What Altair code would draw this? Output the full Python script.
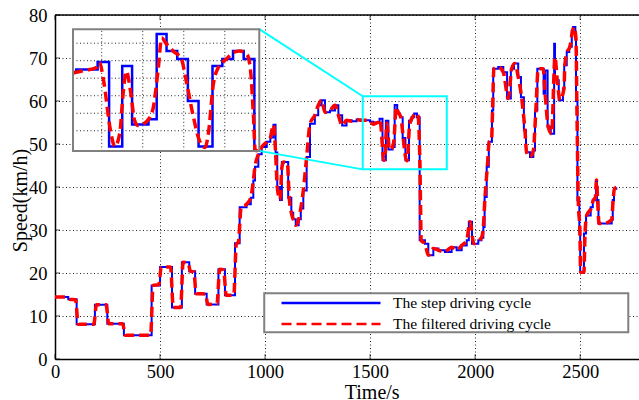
import altair as alt
import pandas as pd

# ---------------- data ----------------
SERIES = ["The step driving cycle", "The filtered driving cycle"]

STEP_T = [0, 63, 103, 190, 249, 328, 460, 500, 557, 604, 639, 667, 722, 778, 809, 857, 879, 912,
          932, 944, 952, 968, 984, 1008, 1025, 1040, 1050, 1058, 1071, 1080, 1110, 1125, 1134, 1146,
          1160, 1170, 1182, 1198, 1214, 1237, 1253, 1269, 1285, 1309, 1333, 1349, 1367, 1388, 1412,
          1436, 1456, 1480, 1500, 1515, 1519, 1545, 1559, 1575, 1587, 1607, 1617, 1629, 1642, 1655,
          1668, 1685, 1697, 1710, 1723, 1736, 1761, 1777, 1801, 1825, 1856, 1888, 1912, 1936, 1960,
          1970, 1985, 2015, 2030, 2039, 2045, 2055, 2065, 2080, 2086, 2110, 2134, 2152, 2170, 2185,
          2205, 2218, 2232, 2242, 2261, 2277, 2285, 2296, 2326, 2334, 2345, 2360, 2376, 2380, 2398,
          2418, 2424, 2436, 2448, 2460, 2466, 2477, 2480, 2487, 2496, 2500, 2518, 2528, 2550, 2560,
          2570, 2575, 2580, 2587, 2610, 2650, 2655, 2661, 2672]
STEP_V = [14.4, 13.9, 8.1, 12.6, 8.2, 5.5, 17.1, 21.4, 12.0, 22.5, 20.4, 15.2, 12.7, 20.9, 14.8, 26.9, 35.3, 36.0,
          37.5, 41.5, 44.7, 47.6, 49.3, 50.5, 51.5, 54.5, 48.0, 40.0, 37.0, 45.8, 37.5, 34.0, 32.5, 31.1,
          32.5, 35.0, 39.2, 47.0, 54.7, 56.7, 59.0, 60.2, 57.4, 57.8, 59.0, 56.7, 54.3, 55.5, 55.3,
          55.7, 55.5, 55.5, 55.2, 54.7, 55.0, 55.85, 46.2, 55.4, 48.7, 49.3, 59.05, 57.1, 56.2, 51.4,
          46.2, 55.4, 56.2, 57.1, 56.2, 27.6, 26.8, 24.1, 25.7, 25.3, 24.9, 26.0, 25.3, 26.4, 27.6,
          31.9, 26.8, 27.6, 28.2, 30.7, 37.7, 44.7, 50.5, 57.8, 67.5, 67.9, 66.7, 60.6, 67.5, 68.7,
          65.6, 60.9, 53.2, 48.1, 47.0, 48.5, 57.8, 67.5, 61.7, 67.1, 54.0, 52.4, 73.3, 64.8, 60.2,
          62.9, 68.3, 71.4, 72.6, 76.4, 77.2, 74.5, 60.0, 36.9, 29.2, 20.2, 29.2, 33.4, 35.3, 36.9,
          37.5, 41.6, 37.0, 31.5, 31.5, 32.4, 37.0, 39.6, 39.9]

FILT_T = [0, 58, 68, 98, 110, 185, 197, 243, 256, 322, 335, 455, 467, 494, 506, 550, 563, 598, 610,
          633, 645, 661, 672, 716, 728, 771, 784, 803, 815, 851, 863, 873, 886, 912, 932, 944, 952,
          968, 984, 1008, 1025, 1040, 1050, 1058, 1071, 1080, 1087, 1106, 1115, 1125, 1134, 1146,
          1160, 1170, 1182, 1198, 1214, 1237, 1253, 1269, 1285, 1309, 1333, 1349, 1367, 1388, 1412,
          1436, 1456, 1480, 1500, 1515, 1530, 1543, 1547, 1553, 1560, 1566, 1572, 1576, 1580, 1585,
          1590, 1594, 1604, 1612, 1619, 1623, 1629, 1637, 1647, 1653, 1661, 1669, 1676, 1680, 1686,
          1692, 1702, 1710, 1718, 1727, 1731, 1735, 1737, 1740, 1743, 1761, 1777, 1801, 1825, 1856,
          1888, 1912, 1936, 1960, 1975, 1994, 2015, 2030, 2039, 2047, 2058, 2067, 2078, 2083, 2089,
          2110, 2134, 2158, 2174, 2189, 2205, 2221, 2237, 2245, 2261, 2277, 2289, 2300, 2324, 2332,
          2348, 2364, 2380, 2391, 2404, 2423, 2427, 2438, 2451, 2464, 2470, 2480, 2484, 2491, 2499,
          2502, 2518, 2523, 2531, 2554, 2562, 2572, 2578, 2583, 2590, 2610, 2650, 2657, 2663, 2672]
FILT_V = [14.4, 14.4, 13.9, 13.8, 8.1, 8.1, 12.6, 12.6, 8.2, 8.2, 5.5, 5.5, 17.1, 17.3, 21.4, 21.4, 12.0, 12.0, 22.5,
          22.3, 20.4, 20.2, 15.2, 15.1, 12.7, 12.8, 20.9, 20.7, 14.8, 14.8, 26.7, 27.2, 35.3, 36.0, 37.5, 41.5, 44.7,
          47.6, 49.3, 50.5, 51.5, 54.5, 48.0, 40.0, 37.0, 44.5, 45.8, 45.6, 37.5, 34.0, 32.5, 31.1,
          32.5, 35.0, 39.2, 47.0, 54.7, 56.7, 59.0, 60.2, 57.4, 57.8, 59.0, 56.7, 54.3, 55.5, 55.3,
          55.7, 55.5, 55.5, 55.4, 54.6, 54.9, 55.2, 55.8, 53.3, 48.4, 46.2, 47.7, 52.2, 54.8, 52.6,
          49.2, 48.6, 49.0, 50.3, 55.2, 58.6, 57.9, 57.1, 56.2, 53.7, 49.9, 46.9, 46.1, 47.7, 53.3,
          55.2, 56.2, 56.9, 57.1, 56.7, 55.2, 49.5, 45.8, 36.0, 27.6, 26.8, 24.1, 25.7, 25.3, 24.9,
          26.0, 25.3, 26.4, 27.6, 31.9, 26.8, 27.6, 28.2, 30.7, 37.7, 44.7, 50.5, 50.9, 57.8, 67.5,
          67.9, 66.7, 60.6, 67.5, 68.7, 65.6, 60.9, 53.2, 48.1, 47.0, 48.5, 57.8, 67.5, 67.5, 62.5,
          54.0, 52.4, 70.2, 64.8, 60.2, 62.9, 68.3, 71.4, 72.6, 76.4, 77.2, 74.5, 60.0, 36.9, 29.2,
          20.2, 20.2, 29.2, 33.4, 35.3, 36.9, 37.5, 41.6, 37.0, 31.5, 31.5, 32.4, 37.0, 39.6, 39.9]

X_TICKS = [0, 500, 1000, 1500, 2000, 2500]
Y_TICKS = [0, 10, 20, 30, 40, 50, 60, 70, 80]
INSET_XGRID = [1550, 1600, 1650, 1700]
INSET_YGRID = [48, 50, 52, 54, 56, 58]

# zoom window shown in the inset and the highlighted box on the main chart
INSET_DOM_T = [1515, 1742]
INSET_DOM_V = [45.7, 59.6]
ZOOM_BOX = {"t0": 1465, "t1": 1865, "v0": 44.1, "v1": 61.1}

# ---------------- layout ----------------
W, H = 584, 344
XMAX, YMAX = 2780, 80
FONT = "Liberation Serif"

# inset frame and legend frame placed in main-chart data units
INSET_T = [85.7, 972.4]
INSET_V = [48.4, 76.7]
LEG_T = [996, 2729]
LEG_V = [6.2, 15.3]

def px_x(t):
    return t * W / XMAX

def px_y(v):
    return H - v * H / YMAX

step_df = pd.DataFrame({"t": STEP_T, "v": STEP_V, "series": SERIES[0]})
filt_df = pd.DataFrame({"t": FILT_T, "v": FILT_V, "series": SERIES[1]})

xs = alt.Scale(domain=[0, XMAX], nice=False, zero=False)
ys = alt.Scale(domain=[0, YMAX], nice=False, zero=False)

grid_kw = dict(grid=True, gridDash=[1, 2.5], gridColor="#000000", gridWidth=1, gridOpacity=0.85,
               ticks=False, tickSize=0, domainColor="#000000", domainWidth=1.5,
               labelFont=FONT, labelFontSize=18.5, labelColor="#000000",
               titleFont=FONT, titleFontSize=20, titleFontWeight="normal", titleColor="#000000")

xaxis = alt.Axis(values=X_TICKS, format="d", labelPadding=3, labelFlush=False,
                 title="Time/s", titleX=316.7, titleY=39, titleBaseline="alphabetic",
                 titleAlign="center", **grid_kw)
yaxis = alt.Axis(values=Y_TICKS, format="d", labelPadding=8, labelFlush=False,
                 title="Speed(km/h)", titleX=-29, titleY=185, titleAngle=270,
                 titleBaseline="alphabetic", titleAlign="center", **grid_kw)

legend = alt.Legend(title=None, orient="none", legendX=225, legendY=280, padding=0,
                    symbolType="stroke", symbolSize=9801, symbolStrokeWidth=2.5,
                    clipHeight=16,
                    labelFont=FONT, labelFontSize=15.5, labelColor="#000000", labelOffset=11,
                    rowPadding=4, labelLimit=400)

color = alt.Color("series:N", scale=alt.Scale(domain=SERIES, range=["#0000FF", "#FF0000"]), legend=legend)
dash = alt.StrokeDash("series:N", scale=alt.Scale(domain=SERIES, range=[[1, 0], [10, 5]]), legend=legend)

step_line = alt.Chart(step_df).mark_line(interpolate="step-after", strokeWidth=2).encode(
    x=alt.X("t:Q", scale=xs, axis=xaxis),
    y=alt.Y("v:Q", scale=ys, axis=yaxis),
    color=color, strokeDash=dash)

filt_line = alt.Chart(filt_df).mark_line(interpolate="monotone", strokeWidth=3.5).encode(
    x=alt.X("t:Q", scale=xs), y=alt.Y("v:Q", scale=ys), color=color, strokeDash=dash)

one = pd.DataFrame({"a": [0]})

top_rule = alt.Chart(one).mark_rule(color="#000000", strokeWidth=1.5).encode(
    x=alt.datum(0), x2=alt.datum(XMAX), y=alt.datum(YMAX))

xt = pd.DataFrame({"t": X_TICKS})
yt = pd.DataFrame({"v": Y_TICKS})
tick_bottom = alt.Chart(xt).mark_tick(orient="vertical", size=5, thickness=1, color="#000000", yOffset=-2.5).encode(
    x="t:Q", y=alt.datum(0))
tick_top = alt.Chart(xt).mark_tick(orient="vertical", size=5, thickness=1, color="#000000", yOffset=2.5).encode(
    x="t:Q", y=alt.datum(YMAX))
tick_left = alt.Chart(yt).mark_tick(orient="horizontal", size=5, thickness=1, color="#000000", xOffset=2.5).encode(
    y="v:Q", x=alt.datum(0))

zoom_rect = alt.Chart(one).mark_rect(fillOpacity=0, stroke="#00FFFF", strokeWidth=2).encode(
    x=alt.datum(ZOOM_BOX["t0"]), x2=alt.datum(ZOOM_BOX["t1"]),
    y=alt.datum(ZOOM_BOX["v0"]), y2=alt.datum(ZOOM_BOX["v1"]))

conn_df = pd.DataFrame({"xa": [INSET_T[1], INSET_T[1]], "ya": [INSET_V[1], INSET_V[0]],
                        "xb": [ZOOM_BOX["t0"], ZOOM_BOX["t0"]], "yb": [ZOOM_BOX["v1"], ZOOM_BOX["v0"]]})
conn = alt.Chart(conn_df).mark_rule(color="#00FFFF", strokeWidth=2).encode(
    x="xa:Q", y="ya:Q", x2="xb:Q", y2="yb:Q")

leg_frame = alt.Chart(one).mark_rect(fill="#FFFFFF", stroke="#808080", strokeWidth=2).encode(
    x=alt.datum(LEG_T[0]), x2=alt.datum(LEG_T[1]), y=alt.datum(LEG_V[0]), y2=alt.datum(LEG_V[1]))

main = alt.layer(step_line, filt_line, top_rule, tick_bottom, tick_top, tick_left,
                 zoom_rect, conn, leg_frame)

# ---------------- inset ----------------
ixs = alt.Scale(domain=INSET_DOM_T, range=[px_x(INSET_T[0]), px_x(INSET_T[1])], clamp=True, nice=False, zero=False)
iys = alt.Scale(domain=INSET_DOM_V, range=[px_y(INSET_V[0]), px_y(INSET_V[1])], clamp=True, nice=False, zero=False)

in_bg = alt.Chart(one).mark_rect(fill="#FFFFFF", strokeWidth=0).encode(
    x=alt.X(datum=INSET_DOM_T[0], type="quantitative", scale=ixs, axis=None),
    x2=alt.datum(INSET_DOM_T[1]),
    y=alt.Y(datum=INSET_DOM_V[0], type="quantitative", scale=iys, axis=None),
    y2=alt.datum(INSET_DOM_V[1]))

in_vgrid = alt.Chart(pd.DataFrame({"g": INSET_XGRID})).mark_rule(
    color="#000000", strokeWidth=1, strokeDash=[1, 2.5], opacity=0.85).encode(
    x=alt.X("g:Q", scale=ixs, axis=None),
    y=alt.Y(datum=INSET_DOM_V[0], type="quantitative", scale=iys, axis=None),
    y2=alt.datum(INSET_DOM_V[1]))
in_hgrid = alt.Chart(pd.DataFrame({"g": INSET_YGRID})).mark_rule(
    color="#000000", strokeWidth=1, strokeDash=[1, 2.5], opacity=0.85).encode(
    y=alt.Y("g:Q", scale=iys, axis=None),
    x=alt.X(datum=INSET_DOM_T[0], type="quantitative", scale=ixs, axis=None),
    x2=alt.datum(INSET_DOM_T[1]))

win = f"datum.t >= {INSET_DOM_T[0]} && datum.t <= {INSET_DOM_T[1]}"
in_step = alt.Chart(step_df).transform_filter(win).mark_line(
    interpolate="step-after", color="#0000FF", strokeWidth=2.5).encode(
    x=alt.X("t:Q", scale=ixs, axis=None), y=alt.Y("v:Q", scale=iys, axis=None))
in_filt = alt.Chart(filt_df).transform_filter(win).mark_line(
    interpolate="monotone", color="#FF0000", strokeWidth=3.5, strokeDash=[10, 5]).encode(
    x=alt.X("t:Q", scale=ixs, axis=None), y=alt.Y("v:Q", scale=iys, axis=None))

in_border = alt.Chart(one).mark_rect(fillOpacity=0, stroke="#808080", strokeWidth=2).encode(
    x=alt.X(datum=INSET_DOM_T[0], type="quantitative", scale=ixs, axis=None),
    x2=alt.datum(INSET_DOM_T[1]),
    y=alt.Y(datum=INSET_DOM_V[0], type="quantitative", scale=iys, axis=None),
    y2=alt.datum(INSET_DOM_V[1]))

inset = alt.layer(in_bg, in_vgrid, in_hgrid, in_step, in_filt, in_border)

chart = alt.layer(main, inset).resolve_scale(x="independent", y="independent").properties(
    width=W, height=H,
    autosize=alt.AutoSizeParams(type="none"),
    padding={"left": 55, "top": 15, "right": 0, "bottom": 41},
    background="#FFFFFF",
).configure_view(stroke=None)

chart.save("out.html", embed_options={"renderer": "svg", "actions": False})
